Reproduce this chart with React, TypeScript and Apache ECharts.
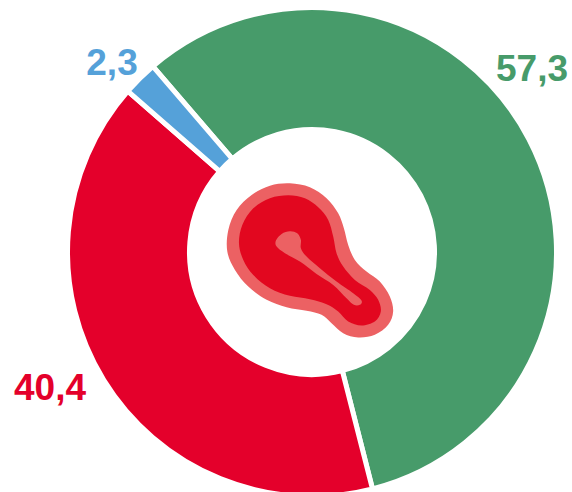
import React, { useEffect, useRef } from "react";
import * as echarts from "echarts";

const categories = ["Green", "Red", "Blue"];
const values = [57.3, 40.4, 2.3];
const colors = ["#479b6a", "#e4002b", "#55a1d9"];

type Pt = [number, number];
const outerPts: Pt[] = [[240,40],[300,52],[350,85],[385,130],[402,175],[415,225],[435,270],[470,305],[510,335],[540,380],[550,425],[535,465],[495,495],[445,503],[400,490],[365,460],[335,435],[290,423],[230,412],[170,390],[115,350],[75,300],[52,245],[55,180],[80,120],[125,75],[180,47]];
const innerPts: Pt[] = [[235,76],[285,85],[325,112],[355,150],[370,200],[380,250],[400,290],[435,330],[480,360],[505,390],[513,425],[495,455],[455,467],[415,455],[385,425],[350,403],[300,388],[240,378],[180,355],[130,315],[100,270],[87,220],[97,165],[130,115],[180,85]];
const corePts: Pt[] = [[240,184],[262,190],[273,210],[273,235],[290,260],[330,295],[380,335],[430,370],[455,392],[450,405],[432,405],[410,385],[370,345],[320,312],[270,275],[225,250],[200,230],[198,212],[215,192]];

function smooth(p: Pt[]): string {
  const n = p.length;
  let d = `M${p[0][0]} ${p[0][1]}`;
  for (let i = 0; i < n; i++) {
    const a = p[(i - 1 + n) % n], b = p[i], c = p[(i + 1) % n], e = p[(i + 2) % n];
    const c1x = b[0] + (c[0] - a[0]) / 6, c1y = b[1] + (c[1] - a[1]) / 6;
    const c2x = c[0] - (e[0] - b[0]) / 6, c2y = c[1] - (e[1] - b[1]) / 6;
    d += `C${c1x} ${c1y} ${c2x} ${c2y} ${c[0]} ${c[1]}`;
  }
  return d + "Z";
}

echarts.graphic.registerShape("logoOuter", echarts.graphic.extendPath(smooth(outerPts), {}));
echarts.graphic.registerShape("logoInner", echarts.graphic.extendPath(smooth(innerPts), {}));
echarts.graphic.registerShape("logoCore", echarts.graphic.extendPath(smooth(corePts), {}));

const labelSpots = [
  { x: 532, y: 68 },
  { x: 50, y: 387 },
  { x: 112, y: 62 },
];

export default function App() {
  const ref = useRef<HTMLDivElement>(null);
  useEffect(() => {
    document.body.style.margin = "0";
    const chart = echarts.init(ref.current!, null, { renderer: "svg" });
    const piece = (type: string, fill: string) => ({
      type, x: 210, y: 170, scaleX: 1 / 3, scaleY: 1 / 3, style: { fill },
    });
    chart.setOption({
      animation: false,
      backgroundColor: "#ffffff",
      series: [
        {
          type: "pie",
          center: [312, 252],
          radius: [122.5, 244.5],
          startAngle: 130.6,
          clockwise: true,
          data: categories.map((name, i) => ({
            name,
            value: values[i],
            itemStyle: { color: colors[i] },
            label: { color: colors[i] },
          })),
          itemStyle: { borderColor: "#ffffff", borderWidth: 5 },
          label: {
            show: true,
            position: "inside",
            formatter: (p: any) => String(p.value).replace(".", ","),
            fontFamily: "Liberation Sans",
            fontWeight: "bold",
            fontSize: 37,
          },
          labelLine: { show: false },
          labelLayout: (p: any) => ({
            x: labelSpots[p.dataIndex].x,
            y: labelSpots[p.dataIndex].y,
            align: "center",
            verticalAlign: "middle",
          }),
          emphasis: { disabled: true },
        },
      ],
      graphic: [
        piece("logoOuter", "#ec6163"),
        piece("logoInner", "#e2071f"),
        piece("logoCore", "#ec6163"),
      ],
    });
    return () => chart.dispose();
  }, []);
  return <div ref={ref} style={{ width: 572, height: 492 }} />;
}
